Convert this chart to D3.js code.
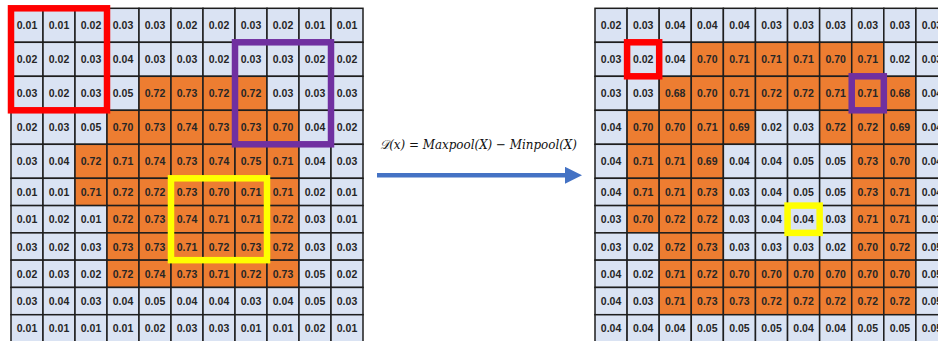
<!DOCTYPE html>
<html>
<head>
<meta charset="utf-8">
<script src="https://cdn.jsdelivr.net/npm/d3@7/dist/d3.min.js"></script>
<style>
  html, body { margin: 0; padding: 0; background: #fff; overflow: hidden; }
  svg { display: block; }
</style>
</head>
<body>
<svg id="chart" width="938" height="341"></svg>
<script>
// Input feature map X (11 x 11)
const inputGrid = [
  [0.01, 0.01, 0.02, 0.03, 0.03, 0.02, 0.02, 0.03, 0.02, 0.01, 0.01],
  [0.02, 0.02, 0.03, 0.04, 0.03, 0.03, 0.02, 0.03, 0.03, 0.02, 0.02],
  [0.03, 0.02, 0.03, 0.05, 0.72, 0.73, 0.72, 0.72, 0.03, 0.03, 0.03],
  [0.02, 0.03, 0.05, 0.70, 0.73, 0.74, 0.73, 0.73, 0.70, 0.04, 0.02],
  [0.03, 0.04, 0.72, 0.71, 0.74, 0.73, 0.74, 0.75, 0.71, 0.04, 0.03],
  [0.01, 0.01, 0.71, 0.72, 0.72, 0.73, 0.70, 0.71, 0.71, 0.02, 0.01],
  [0.01, 0.02, 0.01, 0.72, 0.73, 0.74, 0.71, 0.71, 0.72, 0.03, 0.01],
  [0.03, 0.02, 0.03, 0.73, 0.73, 0.71, 0.72, 0.73, 0.72, 0.03, 0.03],
  [0.02, 0.03, 0.02, 0.72, 0.74, 0.73, 0.71, 0.72, 0.73, 0.05, 0.02],
  [0.03, 0.04, 0.03, 0.04, 0.05, 0.04, 0.04, 0.03, 0.04, 0.05, 0.03],
  [0.01, 0.01, 0.01, 0.01, 0.02, 0.03, 0.03, 0.01, 0.01, 0.02, 0.01]
];

// Output D(x) = Maxpool(X) - Minpool(X)
const outputGrid = [
  [0.02, 0.03, 0.04, 0.04, 0.04, 0.03, 0.03, 0.03, 0.03, 0.03, 0.03],
  [0.03, 0.02, 0.04, 0.70, 0.71, 0.71, 0.71, 0.70, 0.71, 0.02, 0.03],
  [0.03, 0.03, 0.68, 0.70, 0.71, 0.72, 0.72, 0.71, 0.71, 0.68, 0.04],
  [0.04, 0.70, 0.70, 0.71, 0.69, 0.02, 0.03, 0.72, 0.72, 0.69, 0.04],
  [0.04, 0.71, 0.71, 0.69, 0.04, 0.04, 0.05, 0.05, 0.73, 0.70, 0.04],
  [0.04, 0.71, 0.71, 0.73, 0.03, 0.04, 0.05, 0.05, 0.73, 0.71, 0.04],
  [0.03, 0.70, 0.72, 0.72, 0.03, 0.04, 0.04, 0.03, 0.71, 0.71, 0.03],
  [0.03, 0.02, 0.72, 0.73, 0.03, 0.03, 0.03, 0.02, 0.70, 0.72, 0.05],
  [0.04, 0.02, 0.71, 0.72, 0.70, 0.70, 0.70, 0.70, 0.70, 0.70, 0.05],
  [0.04, 0.03, 0.71, 0.73, 0.73, 0.72, 0.72, 0.72, 0.72, 0.72, 0.05],
  [0.04, 0.04, 0.04, 0.05, 0.05, 0.05, 0.04, 0.04, 0.05, 0.05, 0.05]
];

// Highlighted windows: [firstCol, firstRow, nCols, nRows, colour]
const inputWindows = [
  [0, 0, 3, 3, "#ff0000"],
  [7, 1, 3, 3, "#7030a0"],
  [5, 5, 3, 3, "#ffff00"]
];
const outputWindows = [
  [1, 1, 1, 1, "#ff0000"],
  [8, 2, 1, 1, "#7030a0"],
  [6, 6, 1, 1, "#ffff00"]
];

const formulaText = "\u{1D49F}(x) = Maxpool(X) \u2212 Minpool(X)";

const svg = d3.select("#chart");
const fmt = d3.format(".2f");
const LIGHT = "#dae3f3", ORANGE = "#ed7d31";

// Rows: the upper band is taller than the lower band
const yRow = d3.scaleLinear().domain([0, 5, 11]).range([8.3, 178.3, 342]);
const xLeft = d3.scaleLinear().domain([0, 11]).range([11, 363]);
const xRight = d3.scaleLinear().domain([0, 11]).range([595, 948]);

function drawGrid(data, x, windows) {
  const g = svg.append("g");
  const cells = data.flatMap((row, r) => row.map((v, c) => ({ r, c, v })));
  g.selectAll("rect.cell").data(cells).join("rect")
    .attr("class", "cell")
    .attr("x", d => x(d.c))
    .attr("y", d => yRow(d.r))
    .attr("width", d => x(d.c + 1) - x(d.c))
    .attr("height", d => yRow(d.r + 1) - yRow(d.r))
    .attr("fill", d => d.v >= 0.5 ? ORANGE : LIGHT)
    .attr("stroke", "#1e1e1e")
    .attr("stroke-width", 1.5);
  g.selectAll("text.val").data(cells).join("text")
    .attr("class", "val")
    .attr("x", d => (x(d.c) + x(d.c + 1)) / 2)
    .attr("y", d => (yRow(d.r) + yRow(d.r + 1)) / 2)
    .attr("text-anchor", "middle")
    .attr("dominant-baseline", "central")
    .attr("font-family", "'Liberation Sans', Arial, sans-serif")
    .attr("font-weight", "bold")
    .attr("font-size", "10.5px")
    .attr("fill", "#262626")
    .text(d => fmt(d.v));
  g.selectAll("rect.win").data(windows).join("rect")
    .attr("class", "win")
    .attr("x", d => x(d[0]))
    .attr("y", d => yRow(d[1]))
    .attr("width", d => x(d[0] + d[2]) - x(d[0]))
    .attr("height", d => yRow(d[1] + d[3]) - yRow(d[1]))
    .attr("fill", "none")
    .attr("stroke", d => d[4])
    .attr("stroke-width", 6.5);
}

drawGrid(inputGrid, xLeft, inputWindows);
drawGrid(outputGrid, xRight, outputWindows);

// Formula and arrow between the grids
svg.append("text")
  .attr("x", 380)
  .attr("y", 148.5)
  .attr("font-family", "'DejaVu Serif', 'Liberation Serif', serif")
  .attr("font-style", "italic")
  .attr("font-size", "13px")
  .attr("fill", "#111")
  .attr("textLength", 197)
  .attr("lengthAdjust", "spacingAndGlyphs")
  .text(formulaText);

svg.append("defs").append("marker")
  .attr("id", "head")
  .attr("viewBox", "0 0 10 10")
  .attr("refX", 0).attr("refY", 5)
  .attr("markerUnits", "userSpaceOnUse")
  .attr("markerWidth", 17).attr("markerHeight", 17)
  .attr("orient", "auto")
  .append("path").attr("d", "M0,0 L10,5 L0,10 Z").attr("fill", "#4472c4");

svg.append("line")
  .attr("x1", 377).attr("y1", 175.3)
  .attr("x2", 565).attr("y2", 175.3)
  .attr("stroke", "#4472c4")
  .attr("stroke-width", 4.5)
  .attr("marker-end", "url(#head)");
</script>
</body>
</html>
